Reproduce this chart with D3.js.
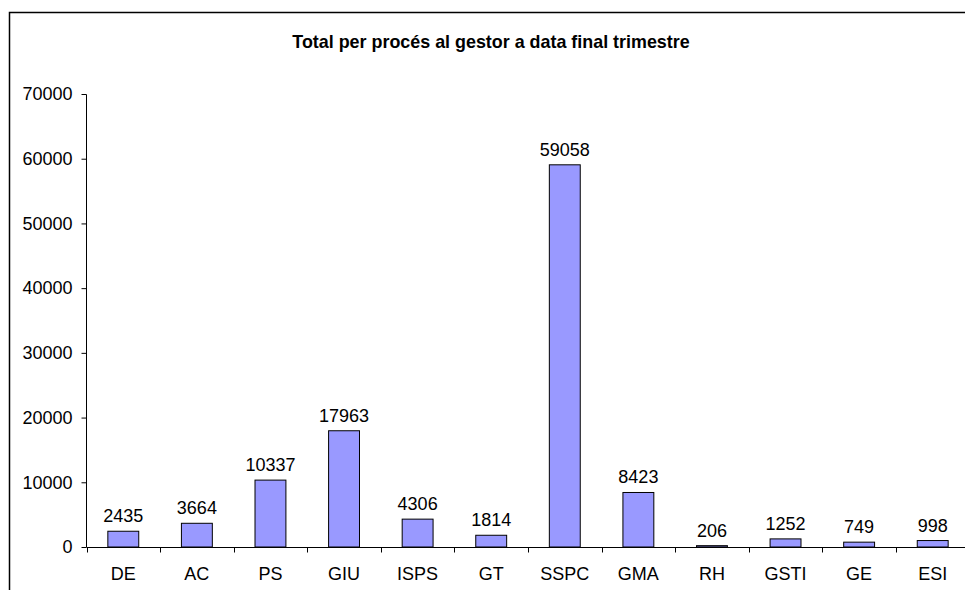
<!DOCTYPE html>
<html><head><meta charset="utf-8">
<script src="https://cdn.jsdelivr.net/npm/d3@7"></script>
<style>body{margin:0;background:#fff}svg{display:block}text{font-family:"Liberation Sans",Arial,sans-serif;fill:#000}</style>
</head><body><svg id="c" width="965" height="590"></svg>
<script>
const categories = ["DE","AC","PS","GIU","ISPS","GT","SSPC","GMA","RH","GSTI","GE","ESI"];
const values = [2435,3664,10337,17963,4306,1814,59058,8423,206,1252,749,998];
const yTicks = [0,10000,20000,30000,40000,50000,60000,70000];
const title = "Total per procés al gestor a data final trimestre";

const svg = d3.select("#c");
// frame
svg.append("rect").attr("x",9.5).attr("y",12.5).attr("width",1000).attr("height",700)
  .attr("fill","none").attr("stroke","#000").attr("stroke-width",1.5);

svg.append("text").attr("x",491).attr("y",48).attr("text-anchor","middle")
  .attr("font-weight","bold").attr("font-size",17.9).text(title);

const x = d3.scaleBand().domain(categories).range([86.5,969.5]);
const y = d3.scaleLinear().domain([0,70000]).range([547,94]);

// y axis
const ya = svg.append("g").attr("transform","translate(86.5,0)")
  .call(d3.axisLeft(y).tickValues(yTicks).tickFormat(d3.format("d")).tickSize(5).tickPadding(9));
ya.selectAll("text").attr("font-size",18).attr("font-family","Liberation Sans, Arial, sans-serif").attr("fill","#000");
ya.selectAll("line,path").attr("stroke","#000");
ya.select(".domain").attr("d","M0,94.5V547");

// bars
const bw = x.bandwidth()*0.42;
svg.selectAll("rect.bar").data(values).join("rect").attr("class","bar")
  .attr("x",(d,i)=>x(categories[i])+x.bandwidth()/2-bw/2)
  .attr("y",d=>y(d)).attr("width",bw).attr("height",d=>y(0)-y(d))
  .attr("fill","#9999FF").attr("stroke","#000").attr("stroke-width",1);

// value labels
svg.selectAll("text.val").data(values).join("text").attr("class","val")
  .attr("x",(d,i)=>x(categories[i])+x.bandwidth()/2).attr("y",d=>y(d)-9)
  .attr("text-anchor","middle").attr("font-size",18).text(d=>d);

// x axis
const g = svg.append("g");
g.append("line").attr("x1",86.5).attr("x2",969.5).attr("y1",547.5).attr("y2",547.5).attr("stroke","#000");
g.selectAll("line.t").data(categories).join("line").attr("class","t")
  .attr("x1",d=>Math.round(x(d))+0.5).attr("x2",d=>Math.round(x(d))+0.5)
  .attr("y1",547.5).attr("y2",552.5).attr("stroke","#000");
g.selectAll("text").data(categories).join("text")
  .attr("x",d=>x(d)+x.bandwidth()/2).attr("y",580).attr("text-anchor","middle")
  .attr("font-size",18).text(d=>d);
</script></body></html>
